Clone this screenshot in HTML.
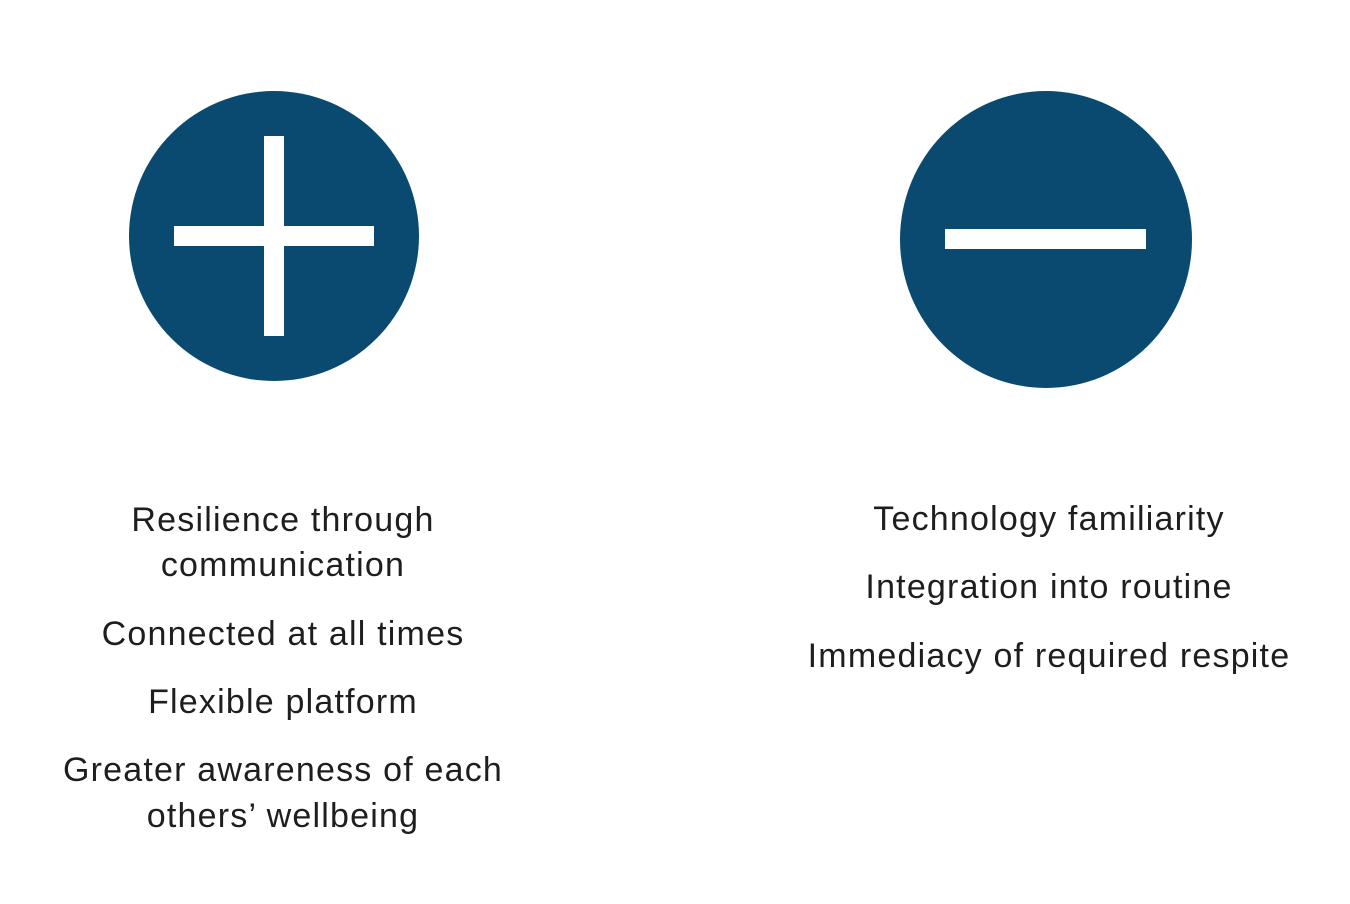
<!DOCTYPE html>
<html><head><meta charset="utf-8"><style>
body{margin:0;width:1350px;height:904px;background:#fff;position:relative;overflow:hidden;font-family:"Liberation Sans",sans-serif;}
.t{position:absolute;width:600px;text-align:center;font-size:34px;letter-spacing:1.2px;color:#1e1e1e;line-height:40px;white-space:nowrap;}
</style></head><body>
<svg width="1350" height="904" style="position:absolute;left:0;top:0">
<g>
<circle cx="274" cy="236" r="145" fill="#0a4a70"/>
<rect x="264" y="136" width="20" height="200" fill="#fff"/>
<rect x="174" y="226" width="200" height="20" fill="#fff"/>
</g>
<g>
<ellipse cx="1046" cy="239.5" rx="146" ry="148.5" fill="#0a4a70"/>
<rect x="945" y="229" width="201" height="20" fill="#fff"/>
</g>
</svg>
<div>
<div class="t" style="left:-17px;top:500px">Resilience through</div>
<div class="t" style="left:-17px;top:545px">communication</div>
<div class="t" style="left:-17px;top:614px">Connected at all times</div>
<div class="t" style="left:-17px;top:682px">Flexible platform</div>
<div class="t" style="left:-17px;top:750px">Greater awareness of each</div>
<div class="t" style="left:-17px;top:796px">others’ wellbeing</div>
</div>
<div>
<div class="t" style="left:749px;top:499px">Technology familiarity</div>
<div class="t" style="left:749px;top:567px">Integration into routine</div>
<div class="t" style="left:749px;top:636px">Immediacy of required respite</div>
</div>
</body></html>
